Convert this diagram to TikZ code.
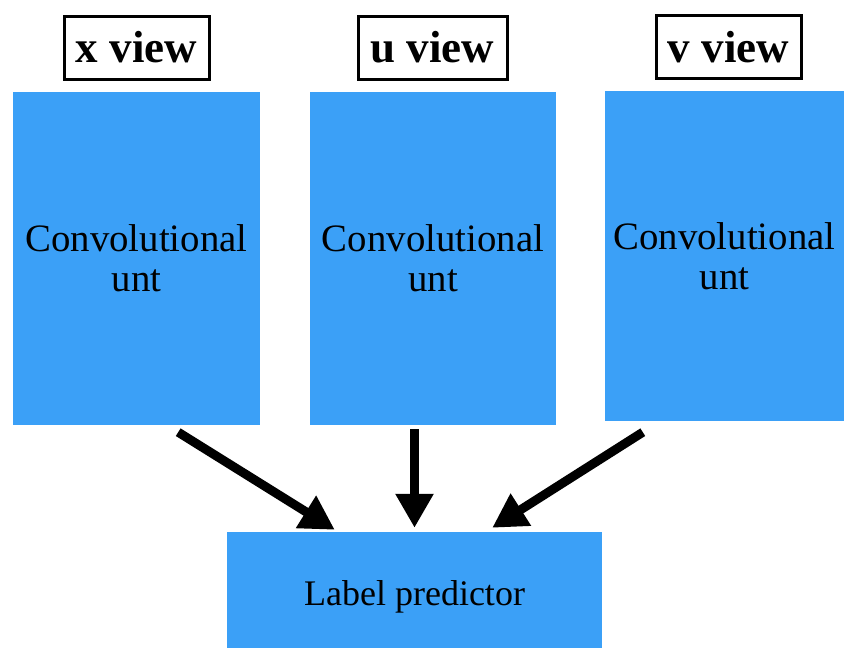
\documentclass[tikz,border=0pt]{standalone}
\usepackage{fontspec}
\setmainfont{Liberation Serif}
\usetikzlibrary{arrows.meta}
\definecolor{convblue}{RGB}{59,160,247}
\tikzset{
  conv/.style={fill=convblue, draw=none, inner sep=0pt, align=center,
    font=\fontsize{38.8}{40}\selectfont},
  viewbox/.style={draw=black, line width=3pt, fill=white, inner sep=0pt,
    minimum height=63pt, font=\fontsize{45}{48}\selectfont\bfseries},
  arr/.style={line width=9pt, -{Triangle[length=34pt,width=36pt]}}
}
\begin{document}
\begin{tikzpicture}[x=1pt,y=-1pt]
\useasboundingbox (0,0) rectangle (844,648);
% view labels
\node[viewbox, minimum width=145pt] (xv) at (136.5,47.5) {x view};
\node[viewbox, minimum width=149pt] (uv) at (432.5,47.5) {u view};
\node[viewbox, minimum width=145pt] (vv) at (728.5,47) {v view};
% convolutional units
\node[conv, minimum width=247pt, minimum height=333pt] (cx) at (136.5,258.5) {Convolutional\\unt};
\node[conv, minimum width=246pt, minimum height=333pt] (cu) at (433,258.5) {Convolutional\\unt};
\node[conv, minimum width=239pt, minimum height=330pt] (cv) at (724.5,256) {Convolutional\\unt};
% label predictor (runs off the bottom edge)
\node[conv, minimum width=375pt, minimum height=130pt, font=\fontsize{36}{40}\selectfont] (lp) at (414.5,597) {Label predictor};
% arrows
\draw[arr] ([xshift=-82pt,yshift=-7pt]cx.south east) -- ([xshift=108pt,yshift=2pt]lp.north west);
\draw[arr] ([yshift=-4pt]cu.south -| lp.north) -- ([yshift=4pt]lp.north);
\draw[arr] ([xshift=38pt,yshift=-11pt]cv.south west) -- ([xshift=-110pt,yshift=4pt]lp.north east);
\end{tikzpicture}
\end{document}
